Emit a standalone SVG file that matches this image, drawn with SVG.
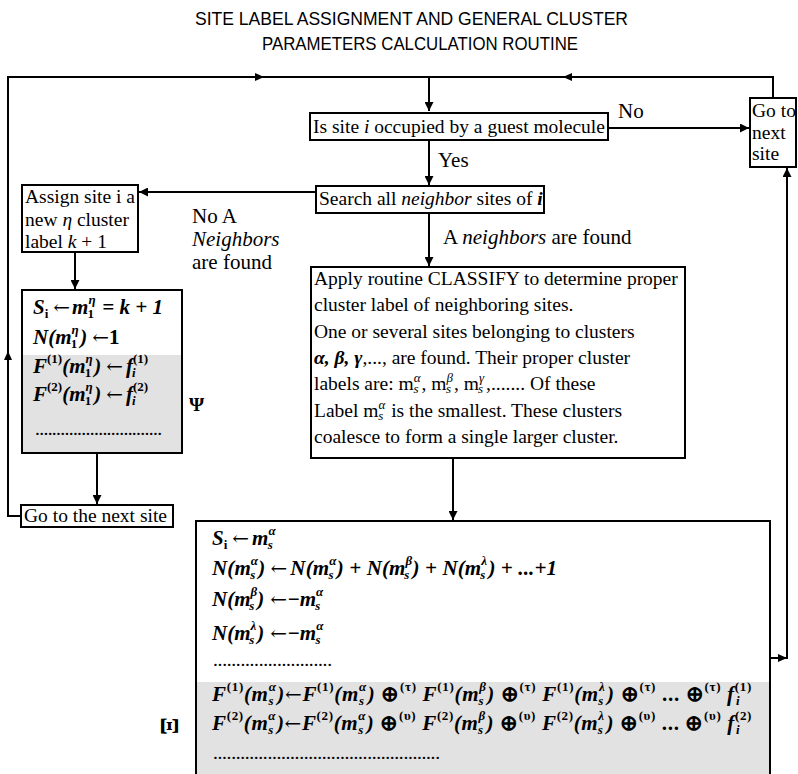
<svg xmlns="http://www.w3.org/2000/svg" width="798" height="774" viewBox="0 0 798 774">
<style>
.tx{font-family:"Liberation Serif","Times New Roman",serif;font-size:19.5px;fill:#000}
.lb{font-family:"Liberation Serif","Times New Roman",serif;font-size:21px;fill:#000}
.ti{font-family:"Liberation Sans",Arial,sans-serif;font-size:18px;fill:#000}
.fm{font-family:"Liberation Serif","Times New Roman",serif;font-size:21px;font-style:italic;font-weight:bold;fill:#000}
.sp{font-size:13px}
.rm{font-style:normal}
.it{font-style:italic}
.bi{font-style:italic;font-weight:bold}
.ar{font-family:"DejaVu Serif",serif;font-style:normal;font-weight:normal;font-size:20px}
.box{fill:#fff;stroke:#000;stroke-width:2}
.shade{fill:#e2e2e2}
.ln{fill:none;stroke:#000;stroke-width:2}
.ah{fill:#000}
</style>
<defs>
<marker id="arr" markerWidth="9" markerHeight="9" refX="9" refY="4.5" orient="auto" markerUnits="userSpaceOnUse">
<path d="M0,0 L9,4.5 L0,9 z" fill="#000"/>
</marker>
</defs>
<rect width="798" height="774" fill="#fff"/>

<g id="title">
<text class="ti" x="195" y="25" textLength="433" lengthAdjust="spacingAndGlyphs">SITE LABEL ASSIGNMENT AND GENERAL CLUSTER</text>
<text class="ti" x="262" y="50" textLength="316" lengthAdjust="spacingAndGlyphs">PARAMETERS CALCULATION ROUTINE</text>
</g>

<g id="connectors">
<path class="ln" d="M21,516 H8 V77 H429 V111" marker-end="url(#arr)"/>
<polygon class="ah" points="255,73 264,77 255,81"/>
<polygon class="ah" points="4,360 8,351 12,360"/>
<path class="ln" d="M773,98 V77 H429"/>
<polygon class="ah" points="572,73 563,77 572,81"/>
<path class="ln" d="M608,128 H749" marker-end="url(#arr)"/>
<path class="ln" d="M429,140 V185" marker-end="url(#arr)"/>
<path class="ln" d="M316,192 H139" marker-end="url(#arr)"/>
<path class="ln" d="M429,213 V266" marker-end="url(#arr)"/>
<path class="ln" d="M75,252 V289" marker-end="url(#arr)"/>
<path class="ln" d="M97,453 V504" marker-end="url(#arr)"/>
<path class="ln" d="M453,458 V520" marker-end="url(#arr)"/>
<path class="ln" d="M770,658 H787 V168" marker-end="url(#arr)"/>
<polygon class="ah" points="778,654 787,658 778,662"/>
<text class="lb" x="618" y="118">No</text>
<text class="lb" x="438" y="167">Yes</text>
<text class="lb" x="443" y="244">A <tspan class="it">neighbors</tspan> are found</text>
<text class="lb" x="192" y="223">No A</text>
<text class="lb it" x="192" y="246">Neighbors</text>
<text class="lb" x="192" y="269">are found</text>
</g>

<g id="occupied">
<rect class="box" x="310" y="113" width="298" height="27"/>
<text class="tx" x="313" y="133">Is site <tspan class="it">i</tspan> occupied by a guest molecule</text>
</g>

<g id="goto-next">
<rect class="box" x="750" y="98" width="46" height="69"/>
<text class="tx" x="752" y="117">Go to</text>
<text class="tx" x="752" y="139">next</text>
<text class="tx" x="752" y="160">site</text>
</g>

<g id="search">
<rect class="box" x="316" y="186" width="228" height="27"/>
<text class="tx" x="319" y="205">Search all <tspan class="it">neighbor</tspan> sites of <tspan class="bi">i</tspan></text>
</g>

<g id="assign">
<rect class="box" x="22" y="185" width="116" height="67"/>
<text class="tx" x="25" y="203">Assign site i a</text>
<text class="tx" x="25" y="226">new <tspan class="it">η</tspan> cluster</text>
<text class="tx" x="25" y="248">label <tspan class="it">k</tspan> + 1</text>
</g>

<g id="psi-box">
<rect class="box" x="22" y="290" width="160" height="163"/>
<rect class="shade" x="23" y="355" width="158" height="97"/>
<text class="fm" x="33" y="314">S<tspan class="sp rm" dy="4">i</tspan><tspan class="ar" dx="5" dy="-4">←</tspan><tspan dx="2">m</tspan><tspan class="sp" dy="-10">η</tspan><tspan class="sp rm" dx="-8" dy="14">1</tspan><tspan dx="3" dy="-4"> = k + 1</tspan></text>
<text class="fm" x="33" y="344">N(m<tspan class="sp" dy="-10">η</tspan><tspan class="sp rm" dx="-8" dy="14">1</tspan><tspan dx="3" dy="-4">)</tspan><tspan class="ar" dx="5">←</tspan><tspan class="rm">1</tspan></text>
<text class="fm" x="33" y="373">F<tspan class="sp rm" dy="-10">(1)</tspan><tspan dy="10">(m</tspan><tspan class="sp" dy="-10">η</tspan><tspan class="sp rm" dx="-8" dy="14">1</tspan><tspan dx="3" dy="-4">)</tspan><tspan class="ar" dx="5">←</tspan><tspan dx="3">f</tspan><tspan class="sp rm" dy="-10">(1)</tspan><tspan class="sp" dx="-16" dy="14">i</tspan></text>
<text class="fm" x="33" y="401">F<tspan class="sp rm" dy="-10">(2)</tspan><tspan dy="10">(m</tspan><tspan class="sp" dy="-10">η</tspan><tspan class="sp rm" dx="-8" dy="14">1</tspan><tspan dx="3" dy="-4">)</tspan><tspan class="ar" dx="5">←</tspan><tspan dx="3">f</tspan><tspan class="sp rm" dy="-10">(2)</tspan><tspan class="sp" dx="-16" dy="14">i</tspan></text>
<text class="tx" x="35" y="435" textLength="127" lengthAdjust="spacing">..............................</text>
<text class="tx" x="189" y="411" font-weight="bold" font-size="22">Ψ</text>
</g>

<g id="goto-the-next">
<rect class="box" x="21" y="505" width="152" height="22"/>
<text class="tx" x="24" y="522" font-size="20">Go to the next site</text>
</g>

<g id="classify">
<rect class="box" x="311" y="267" width="374" height="191"/>
<text class="tx" x="314" y="285">Apply routine CLASSIFY to determine proper</text>
<text class="tx" x="314" y="311">cluster label of neighboring sites.</text>
<text class="tx" x="314" y="338">One or several sites belonging to clusters</text>
<text class="tx" x="314" y="364"><tspan class="bi">α, β, γ</tspan>,..., are found. Their proper cluster</text>
<text class="tx" x="314" y="390">labels are: m<tspan class="sp it" dy="-8">α</tspan><tspan class="sp it" dx="-7" dy="11">s</tspan><tspan dx="3" dy="-3">, m</tspan><tspan class="sp it" dy="-8">β</tspan><tspan class="sp it" dx="-7" dy="11">s</tspan><tspan dx="3" dy="-3">, m</tspan><tspan class="sp it" dy="-8">γ</tspan><tspan class="sp it" dx="-6" dy="11">s</tspan><tspan dx="3" dy="-3">,....... Of these</tspan></text>
<text class="tx" x="314" y="417">Label  m<tspan class="sp it" dy="-8">α</tspan><tspan class="sp it" dx="-7" dy="11">s</tspan><tspan dx="3" dy="-3"> is the smallest. These clusters</tspan></text>
<text class="tx" x="314" y="443">coalesce to form a single larger cluster.</text>
</g>

<g id="xi-box">
<rect class="box" x="196" y="521" width="574" height="270"/>
<rect class="shade" x="197" y="682" width="572" height="92"/>
<text class="fm" x="212" y="545">S<tspan class="sp rm" dy="4">i</tspan><tspan class="ar" dx="5" dy="-4">←</tspan><tspan dx="3">m</tspan><tspan class="sp" dy="-10">α</tspan><tspan class="sp" dx="-8" dy="14">s</tspan></text>
<text class="fm" x="212" y="575" textLength="345" lengthAdjust="spacing">N(m<tspan class="sp" dy="-10">α</tspan><tspan class="sp" dx="-8" dy="14">s</tspan><tspan dx="3" dy="-4">)</tspan><tspan class="ar" dx="5">←</tspan><tspan dx="3">N(m</tspan><tspan class="sp" dy="-10">α</tspan><tspan class="sp" dx="-8" dy="14">s</tspan><tspan dx="3" dy="-4">) + N(m</tspan><tspan class="sp" dy="-10">β</tspan><tspan class="sp" dx="-8" dy="14">s</tspan><tspan dx="3" dy="-4">) + N(m</tspan><tspan class="sp" dy="-10">λ</tspan><tspan class="sp" dx="-7" dy="14">s</tspan><tspan dx="3" dy="-4">) + ...+1</tspan></text>
<text class="fm" x="212" y="606">N(m<tspan class="sp" dy="-10">β</tspan><tspan class="sp" dx="-8" dy="14">s</tspan><tspan dx="3" dy="-4">)</tspan><tspan class="ar" dx="6">←</tspan>−m<tspan class="sp" dy="-10">α</tspan><tspan class="sp" dx="-8" dy="14">s</tspan></text>
<text class="fm" x="212" y="640">N(m<tspan class="sp" dy="-10">λ</tspan><tspan class="sp" dx="-7" dy="14">s</tspan><tspan dx="3" dy="-4">)</tspan><tspan class="ar" dx="6">←</tspan>−m<tspan class="sp" dy="-10">α</tspan><tspan class="sp" dx="-8" dy="14">s</tspan></text>
<text class="tx" x="213" y="666" textLength="119" lengthAdjust="spacing">..........................</text>
<text class="fm" x="212" y="701" textLength="540" lengthAdjust="spacing">F<tspan class="sp rm" dy="-10">(1)</tspan><tspan dy="10">(m</tspan><tspan class="sp" dy="-10">α</tspan><tspan class="sp" dx="-8" dy="14">s</tspan><tspan dx="3" dy="-4">)</tspan><tspan class="ar">←</tspan>F<tspan class="sp rm" dy="-10">(1)</tspan><tspan dy="10">(m</tspan><tspan class="sp" dy="-10">α</tspan><tspan class="sp" dx="-8" dy="14">s</tspan><tspan dx="3" dy="-4">) </tspan><tspan class="rm">⊕</tspan><tspan class="sp rm" dy="-10">(τ)</tspan><tspan dy="10"> F</tspan><tspan class="sp rm" dy="-10">(1)</tspan><tspan dy="10">(m</tspan><tspan class="sp" dy="-10">β</tspan><tspan class="sp" dx="-8" dy="14">s</tspan><tspan dx="3" dy="-4">) </tspan><tspan class="rm">⊕</tspan><tspan class="sp rm" dy="-10">(τ)</tspan><tspan dy="10"> F</tspan><tspan class="sp rm" dy="-10">(1)</tspan><tspan dy="10">(m</tspan><tspan class="sp" dy="-10">λ</tspan><tspan class="sp" dx="-7" dy="14">s</tspan><tspan dx="3" dy="-4">) </tspan><tspan class="rm">⊕</tspan><tspan class="sp rm" dy="-10">(τ)</tspan><tspan class="rm" dy="10"> ... ⊕</tspan><tspan class="sp rm" dy="-10">(τ)</tspan><tspan dy="10"> f</tspan><tspan class="sp rm" dy="-10">(1)</tspan><tspan class="sp" dx="-16" dy="14">i</tspan></text>
<text class="fm" x="212" y="730" textLength="540" lengthAdjust="spacing">F<tspan class="sp rm" dy="-10">(2)</tspan><tspan dy="10">(m</tspan><tspan class="sp" dy="-10">α</tspan><tspan class="sp" dx="-8" dy="14">s</tspan><tspan dx="3" dy="-4">)</tspan><tspan class="ar">←</tspan>F<tspan class="sp rm" dy="-10">(2)</tspan><tspan dy="10">(m</tspan><tspan class="sp" dy="-10">α</tspan><tspan class="sp" dx="-8" dy="14">s</tspan><tspan dx="3" dy="-4">) </tspan><tspan class="rm">⊕</tspan><tspan class="sp rm" dy="-10">(υ)</tspan><tspan dy="10"> F</tspan><tspan class="sp rm" dy="-10">(2)</tspan><tspan dy="10">(m</tspan><tspan class="sp" dy="-10">β</tspan><tspan class="sp" dx="-8" dy="14">s</tspan><tspan dx="3" dy="-4">) </tspan><tspan class="rm">⊕</tspan><tspan class="sp rm" dy="-10">(υ)</tspan><tspan dy="10"> F</tspan><tspan class="sp rm" dy="-10">(2)</tspan><tspan dy="10">(m</tspan><tspan class="sp" dy="-10">λ</tspan><tspan class="sp" dx="-7" dy="14">s</tspan><tspan dx="3" dy="-4">) </tspan><tspan class="rm">⊕</tspan><tspan class="sp rm" dy="-10">(υ)</tspan><tspan class="rm" dy="10"> ... ⊕</tspan><tspan class="sp rm" dy="-10">(υ)</tspan><tspan dy="10"> f</tspan><tspan class="sp rm" dy="-10">(2)</tspan><tspan class="sp" dx="-16" dy="14">i</tspan></text>
<text class="tx" x="213" y="759" textLength="227" lengthAdjust="spacing">..................................................</text>
<text x="169" y="734" style="font-family:'Liberation Serif',serif;font-weight:bold;font-size:26px" text-anchor="middle" transform="rotate(90 169 726)">Ξ</text>
</g>
</svg>
